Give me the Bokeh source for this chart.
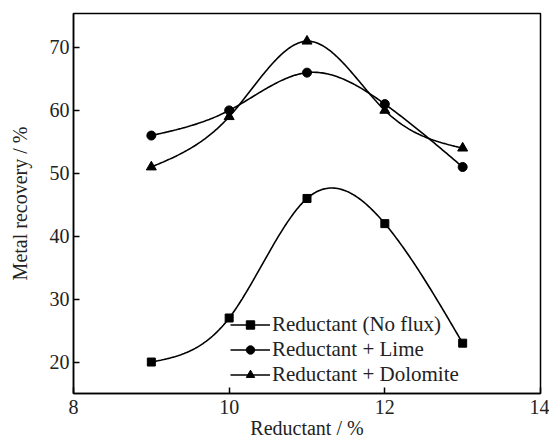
import numpy as np
from bokeh.plotting import figure
from bokeh.models import Legend, LegendItem, Range1d, FixedTicker
from bokeh.embed import file_html
from bokeh.resources import INLINE

reductant = [9, 10, 11, 12, 13]
no_flux = [20, 27, 46, 42, 23]
lime = [56, 60, 66, 61, 51]
dolomite = [51, 59, 71, 60, 54]
x_ticks = [8, 10, 12, 14]
y_ticks = [20, 30, 40, 50, 60, 70]

FONT = "Liberation Serif"


def natural_spline(x, y, n=200):
    x = np.asarray(x, float)
    y = np.asarray(y, float)
    m = len(x)
    h = np.diff(x)
    A = np.zeros((m, m))
    b = np.zeros(m)
    A[0, 0] = 1
    A[-1, -1] = 1
    for i in range(1, m - 1):
        A[i, i - 1] = h[i - 1]
        A[i, i] = 2 * (h[i - 1] + h[i])
        A[i, i + 1] = h[i]
        b[i] = 3 * ((y[i + 1] - y[i]) / h[i] - (y[i] - y[i - 1]) / h[i - 1])
    c = np.linalg.solve(A, b)
    xs = np.linspace(x[0], x[-1], n)
    ys = np.empty_like(xs)
    for k, xv in enumerate(xs):
        i = min(np.searchsorted(x, xv, side="right") - 1, m - 2)
        dx = xv - x[i]
        bi = (y[i + 1] - y[i]) / h[i] - h[i] * (2 * c[i] + c[i + 1]) / 3
        di = (c[i + 1] - c[i]) / (3 * h[i])
        ys[k] = y[i] + bi * dx + c[i] * dx ** 2 + di * dx ** 3
    return xs, ys


p = figure(width=549, height=443, output_backend="svg", toolbar_location=None,
           x_range=Range1d(8, 14), y_range=Range1d(15, 75.4),
           min_border_left=73, min_border_right=9, min_border_top=13, min_border_bottom=50)
p.grid.visible = False
p.outline_line_color = "black"
p.outline_line_width = 1.5
p.background_fill_color = "white"
p.border_fill_color = "white"

for ax in (p.xaxis[0], p.yaxis[0]):
    ax.major_tick_in = 6
    ax.major_tick_out = 0
    ax.minor_tick_line_color = None
    ax.axis_line_width = 1.5
    ax.major_tick_line_width = 1.5
    ax.axis_line_color = "black"
    ax.major_tick_line_color = "black"
    ax.major_label_text_font = FONT
    ax.major_label_text_font_size = "20px"
    ax.major_label_text_color = "#222222"
    ax.axis_label_text_font = FONT
    ax.axis_label_text_font_size = "20px"
    ax.axis_label_text_font_style = "normal"
    ax.axis_label_text_color = "#222222"

p.xaxis.ticker = FixedTicker(ticks=x_ticks)
p.yaxis.ticker = FixedTicker(ticks=y_ticks)
p.xaxis.axis_label = "Reductant / %"
p.yaxis.axis_label = "Metal recovery / %"
p.xaxis.major_label_standoff = 6
p.yaxis.major_label_standoff = 4
p.xaxis.axis_label_standoff = 0
p.yaxis.axis_label_standoff = 16

items = []
series = [("Reductant (No flux)", no_flux, "square", 8),
          ("Reductant + Lime", lime, "circle", 9),
          ("Reductant + Dolomite", dolomite, "triangle", 10)]
for label, ys, marker, size in series:
    sx, sy = natural_spline(reductant, ys)
    l = p.line(sx, sy, line_color="black", line_width=1.6)
    s = p.scatter(reductant, ys, marker=marker, size=size, fill_color="black", line_color="black")
    items.append(LegendItem(label=label, renderers=[l, s]))

legend = Legend(items=items, location=(157, 6), border_line_color=None,
                background_fill_alpha=0, label_text_font=FONT, label_text_font_size="21px",
                label_text_line_height=1.0,
                label_text_color="#222222", glyph_width=40, spacing=-3, padding=0,
                label_standoff=2, label_height=21, glyph_height=21)
p.add_layout(legend)

open("out.html", "w").write(file_html(p, INLINE))
